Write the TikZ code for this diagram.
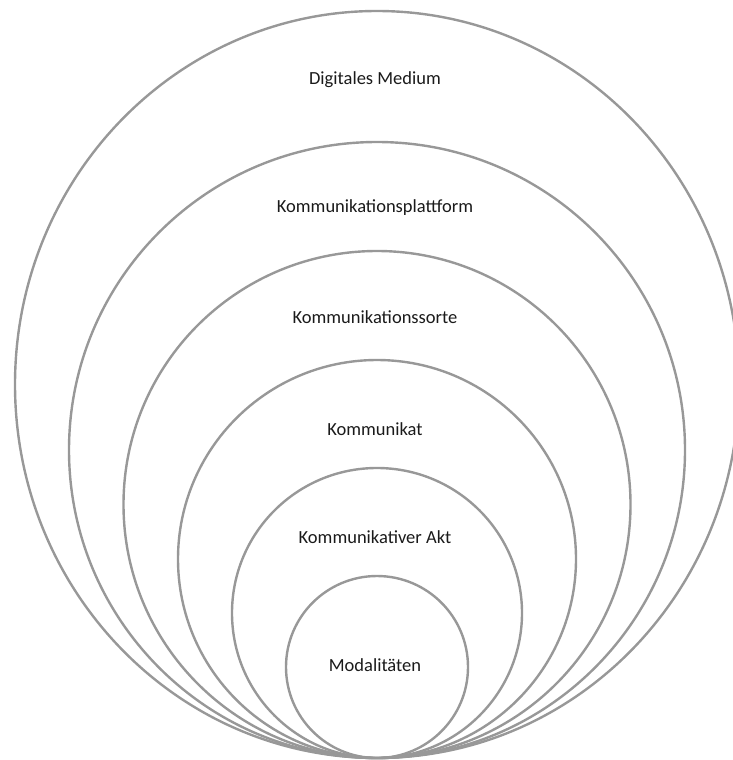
\documentclass[tikz,border=0pt]{standalone}
\usepackage{fontspec}
\setmainfont{Carlito}
\usepackage{tikz}
\usetikzlibrary{shapes.geometric}
\definecolor{ringgray}{RGB}{152, 152, 152}
\definecolor{labeltext}{RGB}{26, 26, 26}

\begin{document}
\begin{tikzpicture}[
    x=1pt, y=-1pt,
    ring/.style={draw=ringgray, line width=2.4pt, fill=none, inner sep=0pt},
    level/.style={font=\fontsize{18.5}{20}\selectfont, text=labeltext, inner sep=0pt}
]
\useasboundingbox (0, 0) rectangle (733, 760);

% Nested rings (outer to inner), all touching at the bottom
\node[ring, ellipse, minimum width=724pt, minimum height=747pt] (medium) at (377, 384.5) {};
\node[ring, circle, minimum size=616pt] (plattform) at (377, 450) {};
\node[ring, circle, minimum size=507pt] (sorte) at (377, 504.5) {};
\node[ring, circle, minimum size=398pt] (kommunikat) at (377, 559) {};
\node[ring, circle, minimum size=290pt] (akt) at (377, 613) {};
\node[ring, circle, minimum size=182pt] (modal) at (377, 667) {};

% Labels
\node[level] (tmedium) at (375, 80) {Digitales Medium};
\node[level] (tplattform) at (375, 208) {Kommunikationsplattform};
\node[level] (tsorte) at (375, 317.5) {Kommunikationssorte};
\node[level] (tkommunikat) at (375, 429) {Kommunikat};
\node[level] (takt) at (375, 537) {Kommunikativer Akt};
\node[level] (tmodal) at (375, 665.5) {Modalitäten};

\end{tikzpicture}
\end{document}
